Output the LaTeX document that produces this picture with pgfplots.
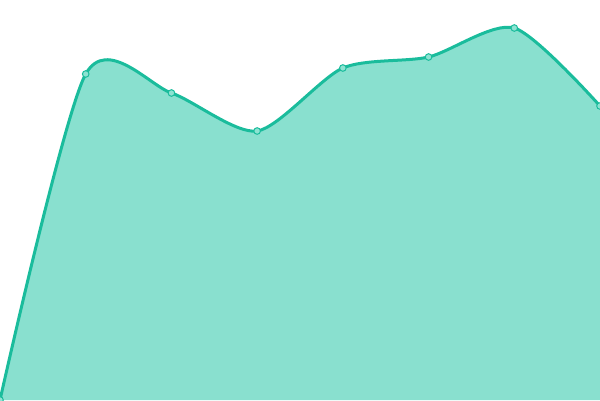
\documentclass[border=0pt]{standalone}
\usepackage{pgfplots}
\pgfplotsset{compat=1.18}
\definecolor{turq}{HTML}{1ABC9C}
\definecolor{turqfill}{HTML}{89E0CF}
\definecolor{turqmark}{HTML}{8DE3D2}
\begin{document}
\begin{tikzpicture}
  \begin{axis}[
    hide axis,
    scale only axis,
    width=600pt, height=400pt,
    xmin=0, xmax=7,
    ymin=0, ymax=400,
    clip=true,
  ]
    \addplot[draw=none, fill=turqfill, smooth, tension=0.45]
      coordinates {(0,0) (1,326) (2,307) (3,269) (4,332) (5,343) (6,372) (7,294)}
      \closedcycle;
    \addplot[draw=turq, line width=3pt, smooth, tension=0.45,
      mark=*, mark size=3.3pt,
      mark options={fill=turqmark, draw=turq, line width=1pt}]
      coordinates {(0,0) (1,326) (2,307) (3,269) (4,332) (5,343) (6,372) (7,294)};
  \end{axis}
  \pgfresetboundingbox
  \path (current axis.south west) rectangle (current axis.north east);
\end{tikzpicture}
\end{document}
